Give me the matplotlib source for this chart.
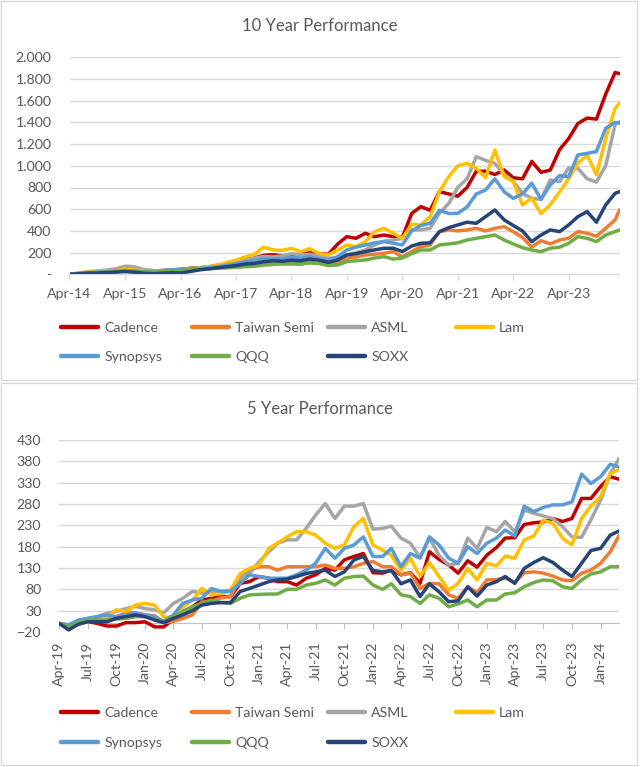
import matplotlib
matplotlib.use('Agg')
import matplotlib.pyplot as plt
import matplotlib.dates as mdates
from matplotlib.lines import Line2D
from matplotlib.patches import Rectangle
from matplotlib.ticker import FuncFormatter
import pandas as pd

plt.rcParams['font.family'] = ['Lato', 'DejaVu Sans']

names = ['Cadence', 'Taiwan Semi', 'ASML', 'Lam', 'Synopsys', 'QQQ', 'SOXX']
colors = ['#C00000', '#ED7D31', '#A5A5A5', '#FFC000', '#5B9BD5', '#70AD47', '#264478']

# 10 year performance (%), every other month Apr-14 .. Feb-24, plus Mar-24
dates_10y = list(pd.date_range('2014-04-01', periods=60, freq='2MS')) + [pd.Timestamp('2024-03-01')]

cadence_10y = [0, 8, 15, 20, 30, 35, 40, 35, 30, 30, 35, 40, 45, 55, 60, 65, 75, 95, 110, 130,
               150, 175, 180, 170, 175, 185, 200, 190, 185, 280, 347,
               332, 378, 347, 362, 347, 340, 560, 624, 590, 762, 740, 720, 800, 950, 950, 920,
               962, 890, 880, 1040, 940, 960, 1150, 1250, 1390, 1440, 1430, 1660, 1860, 1850]
taiwan_10y = [0, 5, 10, 15, 20, 25, 30, 25, 20, 20, 25, 35, 40, 50, 55, 60, 65, 75, 85, 95,
              100, 110, 115, 110, 100, 90, 110, 100, 95, 101, 147,
              160, 178, 185, 194, 209, 160, 209, 255, 270, 393, 409, 400, 409, 424, 400, 424,
              439, 393, 340, 250, 310, 280, 316, 332, 393, 378, 350, 424, 501, 593]
asml_10y = [0, 10, 25, 30, 40, 50, 75, 70, 45, 35, 30, 40, 45, 50, 60, 70, 85, 100, 115, 130,
            150, 165, 160, 170, 190, 180, 185, 165, 150, 150, 178,
            200, 224, 270, 305, 316, 330, 409, 410, 424, 562, 654, 800, 880, 1084, 1050, 1023,
            920, 860, 746, 700, 690, 870, 854, 980, 977, 880, 850, 1000, 1380, 1407]
lam_10y = [0, 10, 20, 25, 30, 35, 45, 40, 30, 25, 30, 35, 40, 50, 60, 70, 85, 110, 130, 160,
           185, 250, 225, 220, 240, 210, 235, 190, 180, 224, 270,
           255, 301, 393, 424, 380, 330, 460, 455, 531, 762, 900, 1000, 1023, 977, 890, 1146,
           900, 854, 640, 700, 560, 640, 760, 880, 1023, 1100, 916, 1250, 1530, 1576]
synopsys_10y = [0, 8, 15, 20, 25, 30, 35, 30, 25, 25, 30, 40, 45, 50, 55, 60, 70, 85, 100, 115,
                125, 140, 140, 145, 155, 150, 160, 145, 130, 163, 224,
                250, 270, 290, 301, 286, 270, 400, 450, 470, 590, 560, 562, 620, 740, 777, 880,
                760, 700, 740, 840, 690, 823, 910, 900, 1100, 1115, 1131, 1346, 1400, 1392]
qqq_10y = [0, 5, 10, 15, 20, 25, 30, 25, 20, 20, 25, 30, 35, 40, 45, 50, 55, 60, 65, 70,
           75, 85, 90, 95, 95, 100, 105, 100, 80, 86, 117,
           125, 132, 150, 163, 140, 150, 190, 224, 224, 270, 280, 290, 316, 332, 347, 362,
           316, 280, 245, 224, 209, 240, 250, 286, 347, 332, 301, 362, 393, 409]
soxx_10y = [0, 5, 10, 12, 15, 20, 25, 20, 10, 5, 10, 15, 12, 25, 40, 50, 60, 70, 80, 95,
            100, 115, 125, 120, 130, 125, 140, 130, 110, 132, 178,
            190, 209, 225, 240, 240, 210, 260, 286, 290, 393, 430, 455, 480, 470, 531, 593,
            501, 450, 400, 301, 362, 409, 393, 455, 531, 578, 480, 639, 746, 762]

# 5 year performance (%), monthly Apr-19 .. Mar-24
dates_5y = pd.date_range('2019-04-01', periods=60, freq='MS')

cadence_5y = [0, -5, 2, 5, 0, -6, -6, 2, 2, 4, -8, -8, 10, 28, 39, 55, 59, 63, 63, 94,
              98, 110, 106, 98, 98, 90, 106, 114, 129,
              125, 149, 157, 164, 119, 118, 125, 114, 119, 94, 168, 150, 137, 118, 147, 132,
              160, 178, 200, 201, 232, 236, 238, 246, 239, 246, 293, 293, 321, 344, 338]
taiwan_5y = [0, -5, 5, 10, 10, 12, 16, 25, 25, 20, 18, 2, 5, 12, 20, 50, 52, 60, 63, 106,
             125, 133, 133, 125, 133, 133, 133, 133, 137,
             129, 129, 133, 141, 145, 133, 133, 114, 118, 82, 94, 93, 67, 59, 86, 72,
             102, 103, 106, 96, 119, 121, 118, 111, 102, 100, 118, 125, 141, 168, 207]
asml_5y = [0, -5, 5, 12, 16, 24, 28, 35, 40, 35, 32, 25, 47, 59, 75, 71, 75, 75, 78, 110,
           117, 145, 168, 188, 196, 196, 223, 254, 281,
           246, 275, 275, 281, 221, 223, 228, 200, 188, 155, 200, 160, 137, 141, 200, 176,
           225, 215, 239, 215, 266, 258, 252, 246, 227, 203, 202, 243, 289, 352, 387]
lam_5y = [0, -10, -2, 5, 8, 16, 32, 28, 43, 47, 43, 15, 15, 39, 55, 82, 67, 70, 78, 117,
          129, 137, 176, 188, 203, 215, 215, 207, 188,
          176, 184, 227, 246, 184, 172, 160, 125, 153, 110, 143, 110, 78, 94, 129, 102,
          141, 135, 158, 153, 196, 205, 242, 235, 200, 184, 246, 275, 297, 352, 361]
synopsys_5y = [0, -3, 8, 12, 16, 20, 16, 20, 24, 20, 16, 5, 20, 47, 55, 59, 82, 75, 75, 94,
               114, 110, 106, 106, 106, 114, 125, 141, 176,
               153, 176, 184, 203, 157, 157, 176, 133, 164, 153, 203, 184, 153, 141, 180, 164,
               188, 200, 219, 205, 275, 262, 272, 278, 278, 285, 350, 328, 344, 373, 367]
qqq_5y = [0, -8, 2, 8, 8, 8, 10, 12, 16, 16, 10, 5, 16, 28, 39, 47, 55, 49, 47, 59,
          67, 68, 69, 69, 80, 80, 90, 94, 102,
          90, 106, 110, 111, 90, 80, 93, 67, 63, 47, 67, 59, 39, 46, 55, 39,
          55, 55, 69, 72, 86, 96, 102, 100, 86, 82, 102, 116, 121, 133, 133]
soxx_5y = [0, -15, -2, 4, 4, 4, 12, 16, 20, 16, 8, 2, 12, 20, 30, 43, 47, 49, 49, 75,
           82, 90, 98, 102, 104, 110, 117, 121, 125,
           110, 121, 149, 157, 124, 121, 124, 93, 102, 63, 93, 74, 51, 53, 86, 64,
           90, 98, 110, 94, 129, 143, 154, 143, 125, 110, 141, 171, 176, 207, 217]

series_10y = [cadence_10y, taiwan_10y, asml_10y, lam_10y, synopsys_10y, qqq_10y, soxx_10y]
series_5y = [cadence_5y, taiwan_5y, asml_5y, lam_5y, synopsys_5y, qqq_5y, soxx_5y]

W, H = 640, 767
GRID = '#d9d9d9'
TXT = '#595959'
FS = 10.2


def box(x0, y0, x1, y1):
    # pixel box (top-left origin) -> figure rect
    return [x0 / W, 1 - y1 / H, (x1 - x0) / W, (y1 - y0) / H]


def style(ax):
    for s in ['top', 'right', 'left']:
        ax.spines[s].set_visible(False)
    ax.spines['bottom'].set_color(GRID)
    ax.grid(axis='y', color=GRID, lw=1)
    ax.set_axisbelow(True)
    ax.tick_params(axis='y', length=0, labelsize=FS, labelcolor=TXT, pad=13)
    ax.tick_params(axis='x', labelsize=FS, labelcolor=TXT, color=GRID)


def draw(ax, dates, series):
    for vals, c in zip(series, colors):
        ax.plot(dates, vals, color=c, lw=2.5, solid_joinstyle='round', solid_capstyle='round')


def legend_rows(y_rows):
    rows = [[0, 1, 2, 3], [4, 5, 6]]
    xs = [61, 192, 328, 456]
    for r, idx in enumerate(rows):
        for c, i in enumerate(idx):
            h = Line2D([], [], color=colors[i], lw=3.2, solid_capstyle='round')
            fig.legend(handles=[h], labels=[names[i]], loc='center left',
                       bbox_to_anchor=(xs[c] / W, 1 - y_rows[r] / H), frameon=False,
                       fontsize=FS, labelcolor=TXT, handlelength=2.6, handletextpad=0.45,
                       borderpad=0, borderaxespad=0)


fig = plt.figure(figsize=(6.4, 7.67), dpi=100)

# panel borders
for y0, y1 in [(1, 380), (383, 765)]:
    fig.patches.append(Rectangle((1 / W, 1 - y1 / H), 636 / W, (y1 - y0) / H,
                                 transform=fig.transFigure, fill=False, ec=GRID, lw=1))

# ---- 10 year ----
ax1 = fig.add_axes(box(69.5, 57.3, 619.5, 274.3))
style(ax1)
draw(ax1, dates_10y, series_10y)
ax1.set_ylim(0, 2000)
ax1.set_yticks(range(0, 2001, 200))
ax1.yaxis.set_major_formatter(FuncFormatter(
    lambda v, p: '-' if v == 0 else f'{v:,.0f}'.replace(',', '.')))
ax1.set_xlim(dates_10y[0], dates_10y[-1])
ax1.set_xticks(pd.date_range('2014-04-01', '2023-04-01', freq='12MS'))
ax1.xaxis.set_major_formatter(mdates.DateFormatter('%b-%y'))
ax1.tick_params(axis='x', length=4, pad=6)
fig.text(0.5, 1 - 26 / H, '10 Year Performance', ha='center', va='center',
         fontsize=12, color=TXT)
legend_rows([328, 357])

# ---- 5 year ----
ax2 = fig.add_axes(box(59.3, 440, 619.3, 632))
style(ax2)
ax2.spines['bottom'].set_visible(False)
draw(ax2, dates_5y, series_5y)
ax2.set_ylim(-20, 430)
ax2.set_yticks(range(-20, 431, 50))
ax2.set_xlim(dates_5y[0], dates_5y[-1])
ax2.set_xticks(dates_5y[::3])
ax2.xaxis.set_major_formatter(mdates.DateFormatter('%b-%y'))
ax2.tick_params(axis='x', length=0, pad=7, labelrotation=90)
# category axis crossing at zero
sec = ax2.secondary_xaxis(20 / 450)
sec.set_xticks(mdates.date2num(dates_5y[::3]))
sec.tick_params(length=4, color='#bfbfbf', labelbottom=False)
sec.spines['bottom'].set_color('#bfbfbf')
fig.text(0.5, 1 - 409 / H, '5 Year Performance', ha='center', va='center',
         fontsize=12, color=TXT)
legend_rows([713, 743])

fig.savefig('out.png', dpi=100, facecolor='white')
